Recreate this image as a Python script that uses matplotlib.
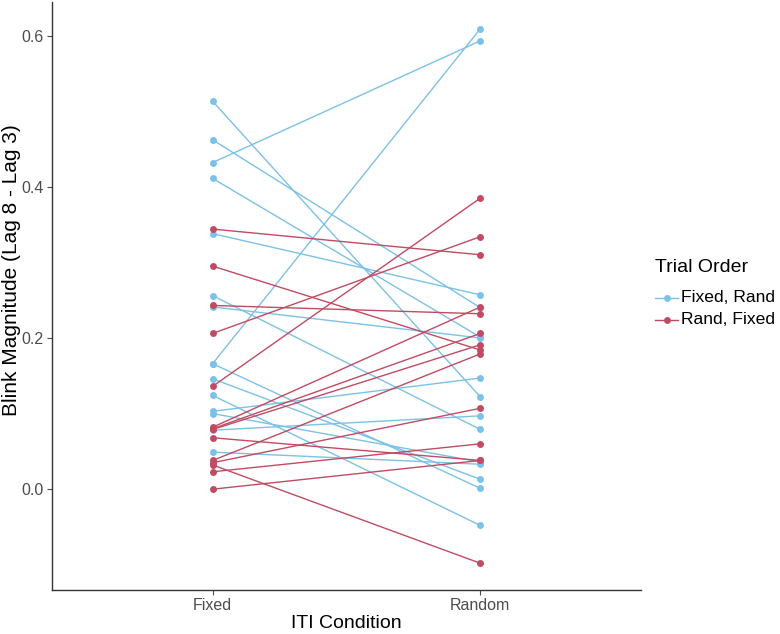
import numpy as np
import matplotlib
matplotlib.use("Agg")
import matplotlib.pyplot as plt
from matplotlib.lines import Line2D

plt.rcParams['font.family'] = ['Liberation Sans', 'DejaVu Sans']

conditions = ["Fixed", "Random"]
group_labels = ["Fixed, Rand", "Rand, Fixed"]

# blink magnitude per participant, paired Fixed -> Random
blue_fixed = [0.513, 0.462, 0.432, 0.411, 0.338, 0.256, 0.241, 0.166,
              0.166, 0.146, 0.124, 0.103, 0.100, 0.078, 0.049]
blue_random = [0.122, 0.240, 0.593, 0.201, 0.257, 0.079, 0.200, 0.609,
               0.001, 0.013, -0.048, 0.147, 0.036, 0.097, 0.033]

red_fixed = [0.344, 0.295, 0.243, 0.206, 0.136, 0.082, 0.080, 0.079,
             0.068, 0.038, 0.035, 0.032, 0.023, 0.000]
red_random = [0.310, 0.184, 0.232, 0.334, 0.385, 0.241, 0.206, 0.191,
              0.038, 0.179, 0.107, -0.098, 0.060, 0.038]

col_blue = "#7CC1E7"
col_red = "#C04B63"
W, H = 780, 634

fig = plt.figure(figsize=(7.8, 6.34), dpi=100)
ax = fig.add_axes([52 / W, 44 / H, 589 / W, 588 / H])

x = np.arange(len(conditions))
for f, r in zip(blue_fixed, blue_random):
    ax.plot(x, [f, r], color=col_blue, lw=1.0, zorder=2)
for f, r in zip(red_fixed, red_random):
    ax.plot(x, [f, r], color=col_red, lw=1.0, zorder=2)
for f, r in zip(blue_fixed, blue_random):
    ax.plot(x, [f, r], 'o', color=col_blue, ms=5, mec='none', zorder=3)
for f, r in zip(red_fixed, red_random):
    ax.plot(x, [f, r], 'o', color=col_red, ms=5, mec='none', zorder=3)

allv = blue_fixed + blue_random + red_fixed + red_random
lo, hi = min(allv), max(allv)
pad = (hi - lo) * 0.05
ax.set_ylim(lo - pad, hi + pad)
ax.set_xlim(-0.6, len(conditions) - 0.4)

ax.set_xticks(x)
ax.set_xticklabels(conditions)
ax.set_yticks([0.0, 0.2, 0.4, 0.6])
ax.set_yticklabels(["0.0", "0.2", "0.4", "0.6"])
ax.tick_params(colors="#4D4D4D", labelsize=11.5, length=3.5, width=0.8, pad=2.5)
for s in ["top", "right"]:
    ax.spines[s].set_visible(False)
for s in ["left", "bottom"]:
    ax.spines[s].set_color("#333333")
    ax.spines[s].set_linewidth(1.0)

ax.set_xlabel("ITI Condition", fontsize=14, labelpad=1)
ax.set_ylabel("Blink Magnitude (Lag 8 - Lag 3)", fontsize=15)
ax.yaxis.label.set_verticalalignment("center")
ax.yaxis.set_label_coords((12 - 52) / 589, (H - 270 - 44) / 588)

# legend drawn by hand to match the ggplot guide spacing
fig.text(655 / W, 1 - 268 / H, "Trial Order", fontsize=14, va="center", ha="left")
for i, (lab, c) in enumerate(zip(group_labels, [col_blue, col_red])):
    yk = 1 - (298 + 22 * i) / H
    fig.add_artist(Line2D([655 / W, 678 / W], [yk, yk], color=c, lw=1.0,
                          transform=fig.transFigure))
    fig.add_artist(Line2D([666.5 / W], [yk], color=c, marker='o', ms=5,
                          mec='none', transform=fig.transFigure))
    fig.text(681 / W, yk, lab, fontsize=12.6, va="center", ha="left")

fig.savefig("out.png", dpi=100)
